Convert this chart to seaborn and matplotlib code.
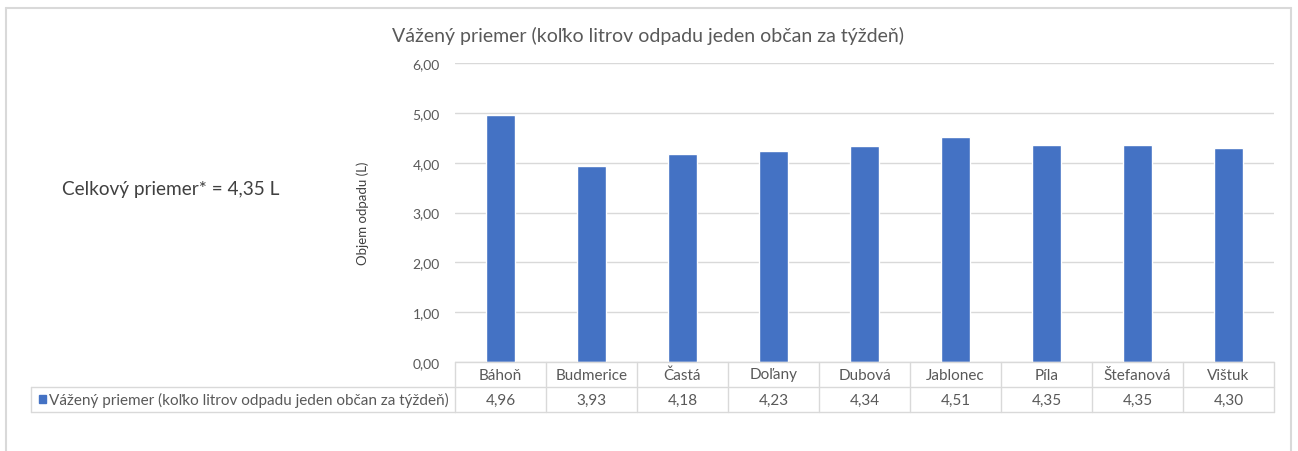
import matplotlib
matplotlib.use("Agg")
import matplotlib.pyplot as plt
import matplotlib.transforms as mtransforms
from matplotlib.lines import Line2D
from matplotlib.patches import Rectangle
from matplotlib.ticker import FuncFormatter
import seaborn as sns

# Data
towns = ["Báhoň", "Budmerice", "Častá", "Doľany", "Dubová",
         "Jablonec", "Píla", "Štefanová", "Vištuk"]
values = [4.96, 3.93, 4.18, 4.23, 4.34, 4.51, 4.35, 4.35, 4.30]
series_name = "Vážený priemer (koľko litrov odpadu jeden občan za týždeň)"
overall_text = "Celkový priemer* = 4,35 L"
y_label = "Objem odpadu (L)"
y_ticks = [0, 1, 2, 3, 4, 5, 6]

BLUE = "#4472C4"
TEXT = "#595959"
GRID = "#D9D9D9"

sns.set_theme(style="white")
plt.rcParams["font.family"] = ["Lato", "DejaVu Sans"]

W, H = 1298, 452
fig = plt.figure(figsize=(W / 100, H / 100), dpi=100)


def fx(px):
    return px / W


def fy(py):
    return 1 - py / H


# Plot area
left, right, top, bottom = 455, 1274, 64, 363
ax = fig.add_axes([fx(left), fy(bottom), fx(right - left), (bottom - top) / H])

sns.barplot(x=towns, y=values, color=BLUE, saturation=1, width=0.31, ax=ax)

ax.set_xlim(-0.5, len(towns) - 0.5)
ax.set_ylim(0, 6)
ax.set_yticks(y_ticks)
ax.yaxis.set_major_formatter(FuncFormatter(lambda v, _: f"{v:.2f}".replace(".", ",")))
ax.tick_params(axis="y", length=0, pad=11, labelsize=10, labelcolor=TEXT)
ax.tick_params(axis="x", length=0, labelbottom=False)
ax.set_xlabel("")
ax.set_ylabel(y_label, fontsize=9.5, color="#404040")
ax.yaxis.set_label_coords((369 - left) / (right - left), 0.5)
ax.grid(axis="y", color=GRID, linewidth=1)
ax.set_axisbelow(True)
for s in ax.spines.values():
    s.set_visible(False)

# Title and overall average
fig.text(fx(648), fy(36), series_name, ha="center", va="center",
         fontsize=14, color=TEXT)
fig.text(fx(62), fy(190), overall_text, ha="left", va="center",
         fontsize=13.7, color="#404040")

# Outer frame
for (x0, y0, x1, y1) in [(6, 9, 1291, 9), (6, 9, 6, 452), (1291, 9, 1291, 452)]:
    fig.add_artist(Line2D([fx(x0), fx(x1)], [fy(y0), fy(y1)],
                          color=GRID, linewidth=1.5, transform=fig.transFigure))

# Data table below the plot
row0, row1, row2 = 363, 388, 413
tr = mtransforms.blended_transform_factory(ax.transData, fig.transFigure)
n = len(towns)
lw = 1.0
fs_table = 11

for yy in (row0, row1, row2):
    ax.add_line(Line2D([-0.5, n - 0.5], [fy(yy), fy(yy)], transform=tr,
                       color=GRID, linewidth=lw, clip_on=False))
for i in range(n + 1):
    ax.add_line(Line2D([i - 0.5, i - 0.5], [fy(row0), fy(row2)], transform=tr,
                       color=GRID, linewidth=lw, clip_on=False))

# Legend cell at left of value row
cell_left = 31
for (x0, y0, x1, y1) in [(cell_left, row1, left, row1), (cell_left, row2, left, row2),
                         (cell_left, row1, cell_left, row2)]:
    fig.add_artist(Line2D([fx(x0), fx(x1)], [fy(y0), fy(y1)],
                          color=GRID, linewidth=lw, transform=fig.transFigure))
fig.add_artist(Rectangle((fx(39), fy(404)), fx(7), 8 / H, color=BLUE,
                         transform=fig.transFigure))
fig.text(fx(49), fy((row1 + row2) / 2), series_name, ha="left", va="center",
         fontsize=fs_table, color=TEXT)

for i, (t, v) in enumerate(zip(towns, values)):
    ax.text(i, fy((row0 + row1) / 2), t, transform=tr, ha="center",
            va="center", fontsize=fs_table, color=TEXT)
    ax.text(i, fy((row1 + row2) / 2), f"{v:.2f}".replace(".", ","),
            transform=tr, ha="center", va="center", fontsize=fs_table, color=TEXT)

fig.savefig("out.png", dpi=100, facecolor="white")
